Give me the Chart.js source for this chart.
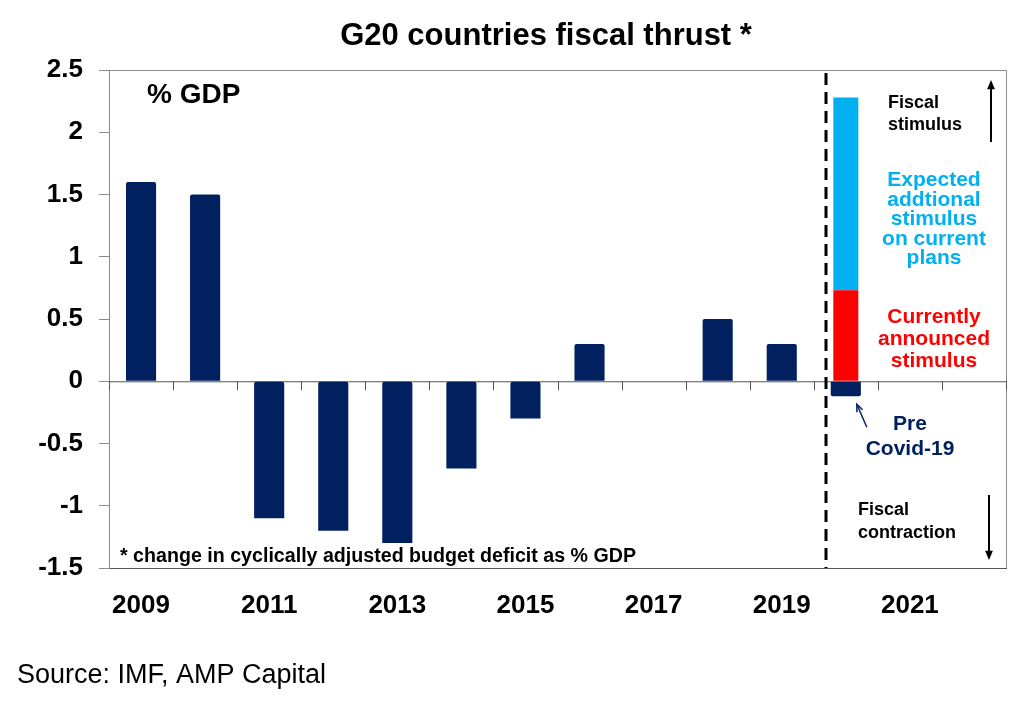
<!DOCTYPE html>
<html>
<head>
  <title>G20 countries fiscal thrust</title>
  <script src="https://cdn.jsdelivr.net/npm/chart.js"></script>
  <style>
    body { margin: 0; padding: 0; background: #fff; }
    #wrap { width: 1024px; height: 709px; position: relative; }
  </style>
</head>
<body>
  <div id="wrap"><canvas id="fiscalChart"></canvas></div>
  <script>
    // categories and values (% of GDP)
    const years = ['2009', '2010', '2011', '2012', '2013', '2014', '2015',
                   '2016', '2017', '2018', '2019', '2020', '2021', '2022'];
    const thrust = [1.6, 1.5, -1.1, -1.2, -1.3, -0.7, -0.3, 0.3, null, 0.5, 0.3, -0.12, null, null];
    const announced = [null, null, null, null, null, null, null, null, null, null, null, 0.73, null, null];
    const expected = [null, null, null, null, null, null, null, null, null, null, null, 1.55, null, null];
    const yMin = -1.5, yMax = 2.5, yStep = 0.5;

    const NAVY = '#002060', RED = '#ff0000', CYAN = '#00b0f0';
    const FONT = '"Liberation Sans", Arial, sans-serif';

    function arrow(ctx, x1, y1, x2, y2, color, lw, head, open) {
      const a = Math.atan2(y2 - y1, x2 - x1);
      ctx.save();
      ctx.strokeStyle = color;
      ctx.fillStyle = color;
      ctx.lineWidth = lw;
      ctx.beginPath();
      ctx.moveTo(x1, y1);
      ctx.lineTo(x2 - (open ? 0 : head * 0.8 * Math.cos(a)), y2 - (open ? 0 : head * 0.8 * Math.sin(a)));
      ctx.stroke();
      ctx.beginPath();
      ctx.moveTo(x2 - head * Math.cos(a - 0.4), y2 - head * Math.sin(a - 0.4));
      ctx.lineTo(x2, y2);
      ctx.lineTo(x2 - head * Math.cos(a + 0.4), y2 - head * Math.sin(a + 0.4));
      if (open) { ctx.stroke(); } else { ctx.closePath(); ctx.fill(); }
      ctx.restore();
    }

    function lines(ctx, arr, x, y, step, align) {
      ctx.textAlign = align;
      arr.forEach((t, i) => ctx.fillText(t, x, y + i * step));
    }

    const framePlugin = {
      id: 'frame',
      beforeDatasetsDraw(chart) {
        const { ctx, chartArea: a, scales: { x, y } } = chart;
        const y0 = y.getPixelForValue(0);
        ctx.save();
        // top and right of the plot box
        ctx.strokeStyle = '#8c8c8c';
        ctx.lineWidth = 1;
        ctx.beginPath();
        ctx.moveTo(a.left, a.top + 0.5);
        ctx.lineTo(a.right + 0.5, a.top + 0.5);
        ctx.lineTo(a.right + 0.5, a.bottom);
        ctx.stroke();
        // zero line with category ticks below
        ctx.strokeStyle = '#555';
        ctx.beginPath();
        ctx.moveTo(a.left, y0 + 0.5);
        ctx.lineTo(a.right, y0 + 0.5);
        for (let i = 0; i <= years.length; i++) {
          const px = Math.round(x.getPixelForValue(i - 0.5)) + 0.5;
          ctx.moveTo(px, y0);
          ctx.lineTo(px, y0 + 9);
        }
        ctx.stroke();
        ctx.restore();
      },
      afterDatasetsDraw(chart) {
        const { ctx, chartArea: a, scales: { x, y } } = chart;
        ctx.save();
        // dashed divider before the 2020 bar
        const dx = Math.round(x.getPixelForValue(10.5)) + 12;
        ctx.strokeStyle = '#000';
        ctx.lineWidth = 3;
        ctx.setLineDash([12, 7]);
        ctx.beginPath();
        ctx.moveTo(dx, a.top + 3);
        ctx.lineTo(dx, a.bottom);
        ctx.stroke();
        ctx.setLineDash([]);

        ctx.textBaseline = 'alphabetic';
        ctx.fillStyle = '#000';
        ctx.font = 'bold 31px ' + FONT;
        ctx.textAlign = 'center';
        ctx.fillText('G20 countries fiscal thrust *', 546, 45);

        ctx.font = 'bold 28px ' + FONT;
        ctx.textAlign = 'left';
        ctx.fillText('% GDP', 147, 103);

        ctx.font = 'bold 20px ' + FONT;
        ctx.fillText('* change in cyclically adjusted budget deficit as % GDP', 120, 562, 516);

        ctx.font = 'bold 18px ' + FONT;
        lines(ctx, ['Fiscal', 'stimulus'], 888, 108, 22, 'left');
        lines(ctx, ['Fiscal', 'contraction'], 858, 515, 23, 'left');

        ctx.font = 'bold 21px ' + FONT;
        ctx.fillStyle = CYAN;
        lines(ctx, ['Expected', 'addtional', 'stimulus', 'on current', 'plans'], 934, 186, 19.5, 'center');
        ctx.fillStyle = RED;
        lines(ctx, ['Currently', 'announced', 'stimulus'], 934, 323, 22, 'center');
        ctx.fillStyle = NAVY;
        lines(ctx, ['Pre', 'Covid-19'], 910, 430, 25, 'center');

        ctx.font = '27px ' + FONT;
        ctx.fillStyle = '#000';
        ctx.textAlign = 'left';
        ctx.fillText('Source: IMF, AMP Capital', 17, 683);

        arrow(ctx, 991, 142, 991, 80, '#000', 2, 10, false);
        arrow(ctx, 989, 495, 989, 560, '#000', 2, 10, false);
        const bx = x.getPixelForValue(11), by = y.getPixelForValue(-0.12);
        arrow(ctx, bx + 21, by + 31, bx + 11, by + 8, NAVY, 1.5, 8, true);
        ctx.restore();
      }
    };

    new Chart(document.getElementById('fiscalChart'), {
      type: 'bar',
      data: {
        labels: years,
        datasets: [
          { label: 'Fiscal thrust', data: thrust, backgroundColor: NAVY,
            barPercentage: 0.47, categoryPercentage: 1, borderRadius: 2, borderSkipped: 'middle' },
          { label: 'Currently announced stimulus', data: announced, backgroundColor: RED,
            barPercentage: 0.39, categoryPercentage: 1 },
          { label: 'Expected additional stimulus', data: expected, backgroundColor: CYAN,
            barPercentage: 0.39, categoryPercentage: 1 }
        ]
      },
      options: {
        responsive: true,
        maintainAspectRatio: false,
        animation: false,
        devicePixelRatio: 1,
        layout: { padding: { left: 0, right: 18, top: 70, bottom: 0 } },
        plugins: { legend: { display: false }, tooltip: { enabled: false } },
        scales: {
          x: {
            stacked: true,
            grid: { display: false, drawTicks: false },
            border: { display: true, color: '#555', width: 1 },
            ticks: {
              autoSkip: false, maxRotation: 0, padding: 22, color: '#000',
              font: { family: FONT, size: 26, weight: 'bold' },
              callback: (v, i) => (i % 2 === 0 ? years[i] : '')
            },
            afterFit: s => { s.height = 141; }
          },
          y: {
            stacked: true,
            min: yMin, max: yMax,
            grid: { drawOnChartArea: false, drawTicks: true, tickLength: 10, color: '#8c8c8c' },
            border: { display: true, color: '#8c8c8c', width: 1 },
            ticks: {
              stepSize: yStep, padding: 16, color: '#000',
              font: { family: FONT, size: 26, weight: 'bold' },
              callback: v => String(Math.round(v * 10) / 10)
            },
            afterFit: s => { s.width = 109; }
          }
        }
      },
      plugins: [framePlugin]
    });
  </script>
</body>
</html>
